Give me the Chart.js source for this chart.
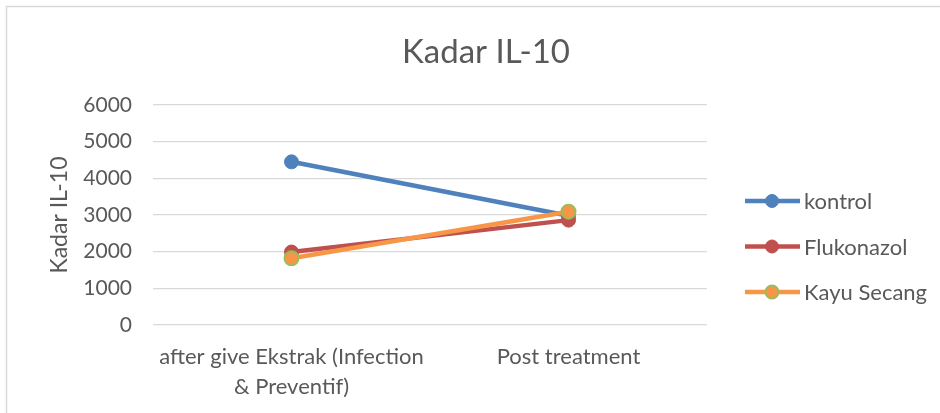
<!DOCTYPE html>
<html>
<head>
<meta charset="utf-8">
<script src="https://cdn.jsdelivr.net/npm/chart.js@4.4.0/dist/chart.umd.min.js"></script>
<style>
  html, body { margin: 0; padding: 0; background: #fff; }
  #wrap { position: relative; width: 940px; height: 413px; }
</style>
</head>
<body>
<div id="wrap"><canvas id="il10" width="940" height="413"></canvas></div>
<script>
// values
var categories = [["after give Ekstrak (Infection", "& Preventif)"], "Post treatment"];
var kontrol = [4450, 2980];
var flukonazol = [1990, 2860];
var kayuSecang = [1820, 3090];
var seriesNames = ["kontrol", "Flukonazol", "Kayu Secang"];

var txtColor = "#595959";
var fontFam = "Lato, 'Open Sans', sans-serif";

// frame, title and legend drawn by hand like Excel does
var excelBits = {
  id: "excelBits",
  beforeDraw: function(chart) {
    var ctx = chart.ctx;
    ctx.save();
    ctx.fillStyle = "#fff";
    ctx.fillRect(0, 0, 940, 413);
    ctx.strokeStyle = "#D9D9D9";
    ctx.lineWidth = 1.5;
    ctx.beginPath();
    ctx.moveTo(940, 6.5);
    ctx.lineTo(6.5, 6.5);
    ctx.lineTo(6.5, 413);
    ctx.stroke();
    ctx.restore();
  },
  afterDraw: function(chart) {
    var ctx = chart.ctx;
    ctx.save();
    ctx.fillStyle = txtColor;
    ctx.font = "33px " + fontFam;
    ctx.textAlign = "center";
    ctx.textBaseline = "alphabetic";
    ctx.fillText("Kadar IL-10", 486, 63);

    ctx.font = "22px " + fontFam;
    ctx.textAlign = "left";
    ctx.textBaseline = "middle";
    chart.data.datasets.forEach(function(ds, i) {
      var y = 201 + i * 45.5;
      ctx.strokeStyle = ds.borderColor;
      ctx.lineWidth = 4.5;
      ctx.beginPath();
      ctx.moveTo(745, y);
      ctx.lineTo(800, y);
      ctx.stroke();
      ctx.beginPath();
      ctx.arc(772, y, 6.5, 0, Math.PI * 2);
      ctx.fillStyle = ds.pointBackgroundColor;
      ctx.fill();
      ctx.lineWidth = ds.pointBorderWidth;
      ctx.strokeStyle = ds.pointBorderColor;
      ctx.stroke();
      ctx.fillStyle = txtColor;
      ctx.fillText(ds.label, 804, y + 1);
    });
    ctx.restore();
  }
};

new Chart(document.getElementById("il10"), {
  type: "line",
  data: {
    labels: categories,
    datasets: [{
      label: seriesNames[0],
      data: kontrol,
      borderColor: "#4F81BD",
      pointBackgroundColor: "#4F81BD",
      pointBorderColor: "#4F81BD",
      pointBorderWidth: 1,
      order: 3
    }, {
      label: seriesNames[1],
      data: flukonazol,
      borderColor: "#C0504D",
      pointBackgroundColor: "#C0504D",
      pointBorderColor: "#C0504D",
      pointBorderWidth: 1,
      order: 2
    }, {
      label: seriesNames[2],
      data: kayuSecang,
      borderColor: "#F79646",
      pointBackgroundColor: "#F79646",
      pointBorderColor: "#9BBB59",
      pointBorderWidth: 2,
      order: 1
    }]
  },
  options: {
    responsive: false,
    animation: false,
    layout: { padding: { left: 0, top: 105, right: 233, bottom: 0 } },
    elements: {
      line: { borderWidth: 4.5, tension: 0 },
      point: { radius: 7, hoverRadius: 7 }
    },
    plugins: {
      legend: { display: false },
      title: { display: false },
      tooltip: { enabled: false }
    },
    scales: {
      x: {
        offset: true,
        grid: { display: false },
        border: { display: false },
        ticks: {
          color: txtColor,
          font: { family: fontFam, size: 22, lineHeight: 1.36 },
          padding: 9,
          maxRotation: 0,
          autoSkip: false
        },
        afterFit: function(scale) { scale.height = 88; }
      },
      y: {
        min: 0,
        max: 6000,
        ticks: {
          stepSize: 1000,
          color: txtColor,
          font: { family: fontFam, size: 21 },
          padding: 21,
          callback: function(v) { return String(v); }
        },
        grid: { color: "#D9D9D9", lineWidth: 1.3, drawTicks: false },
        border: { display: false },
        title: {
          display: true,
          text: "Kadar IL-10",
          color: txtColor,
          font: { family: fontFam, size: 23 },
          padding: { top: 46, bottom: 0 }
        },
        afterFit: function(scale) { scale.width = 153; }
      }
    }
  },
  plugins: [excelBits]
});
</script>
</body>
</html>
